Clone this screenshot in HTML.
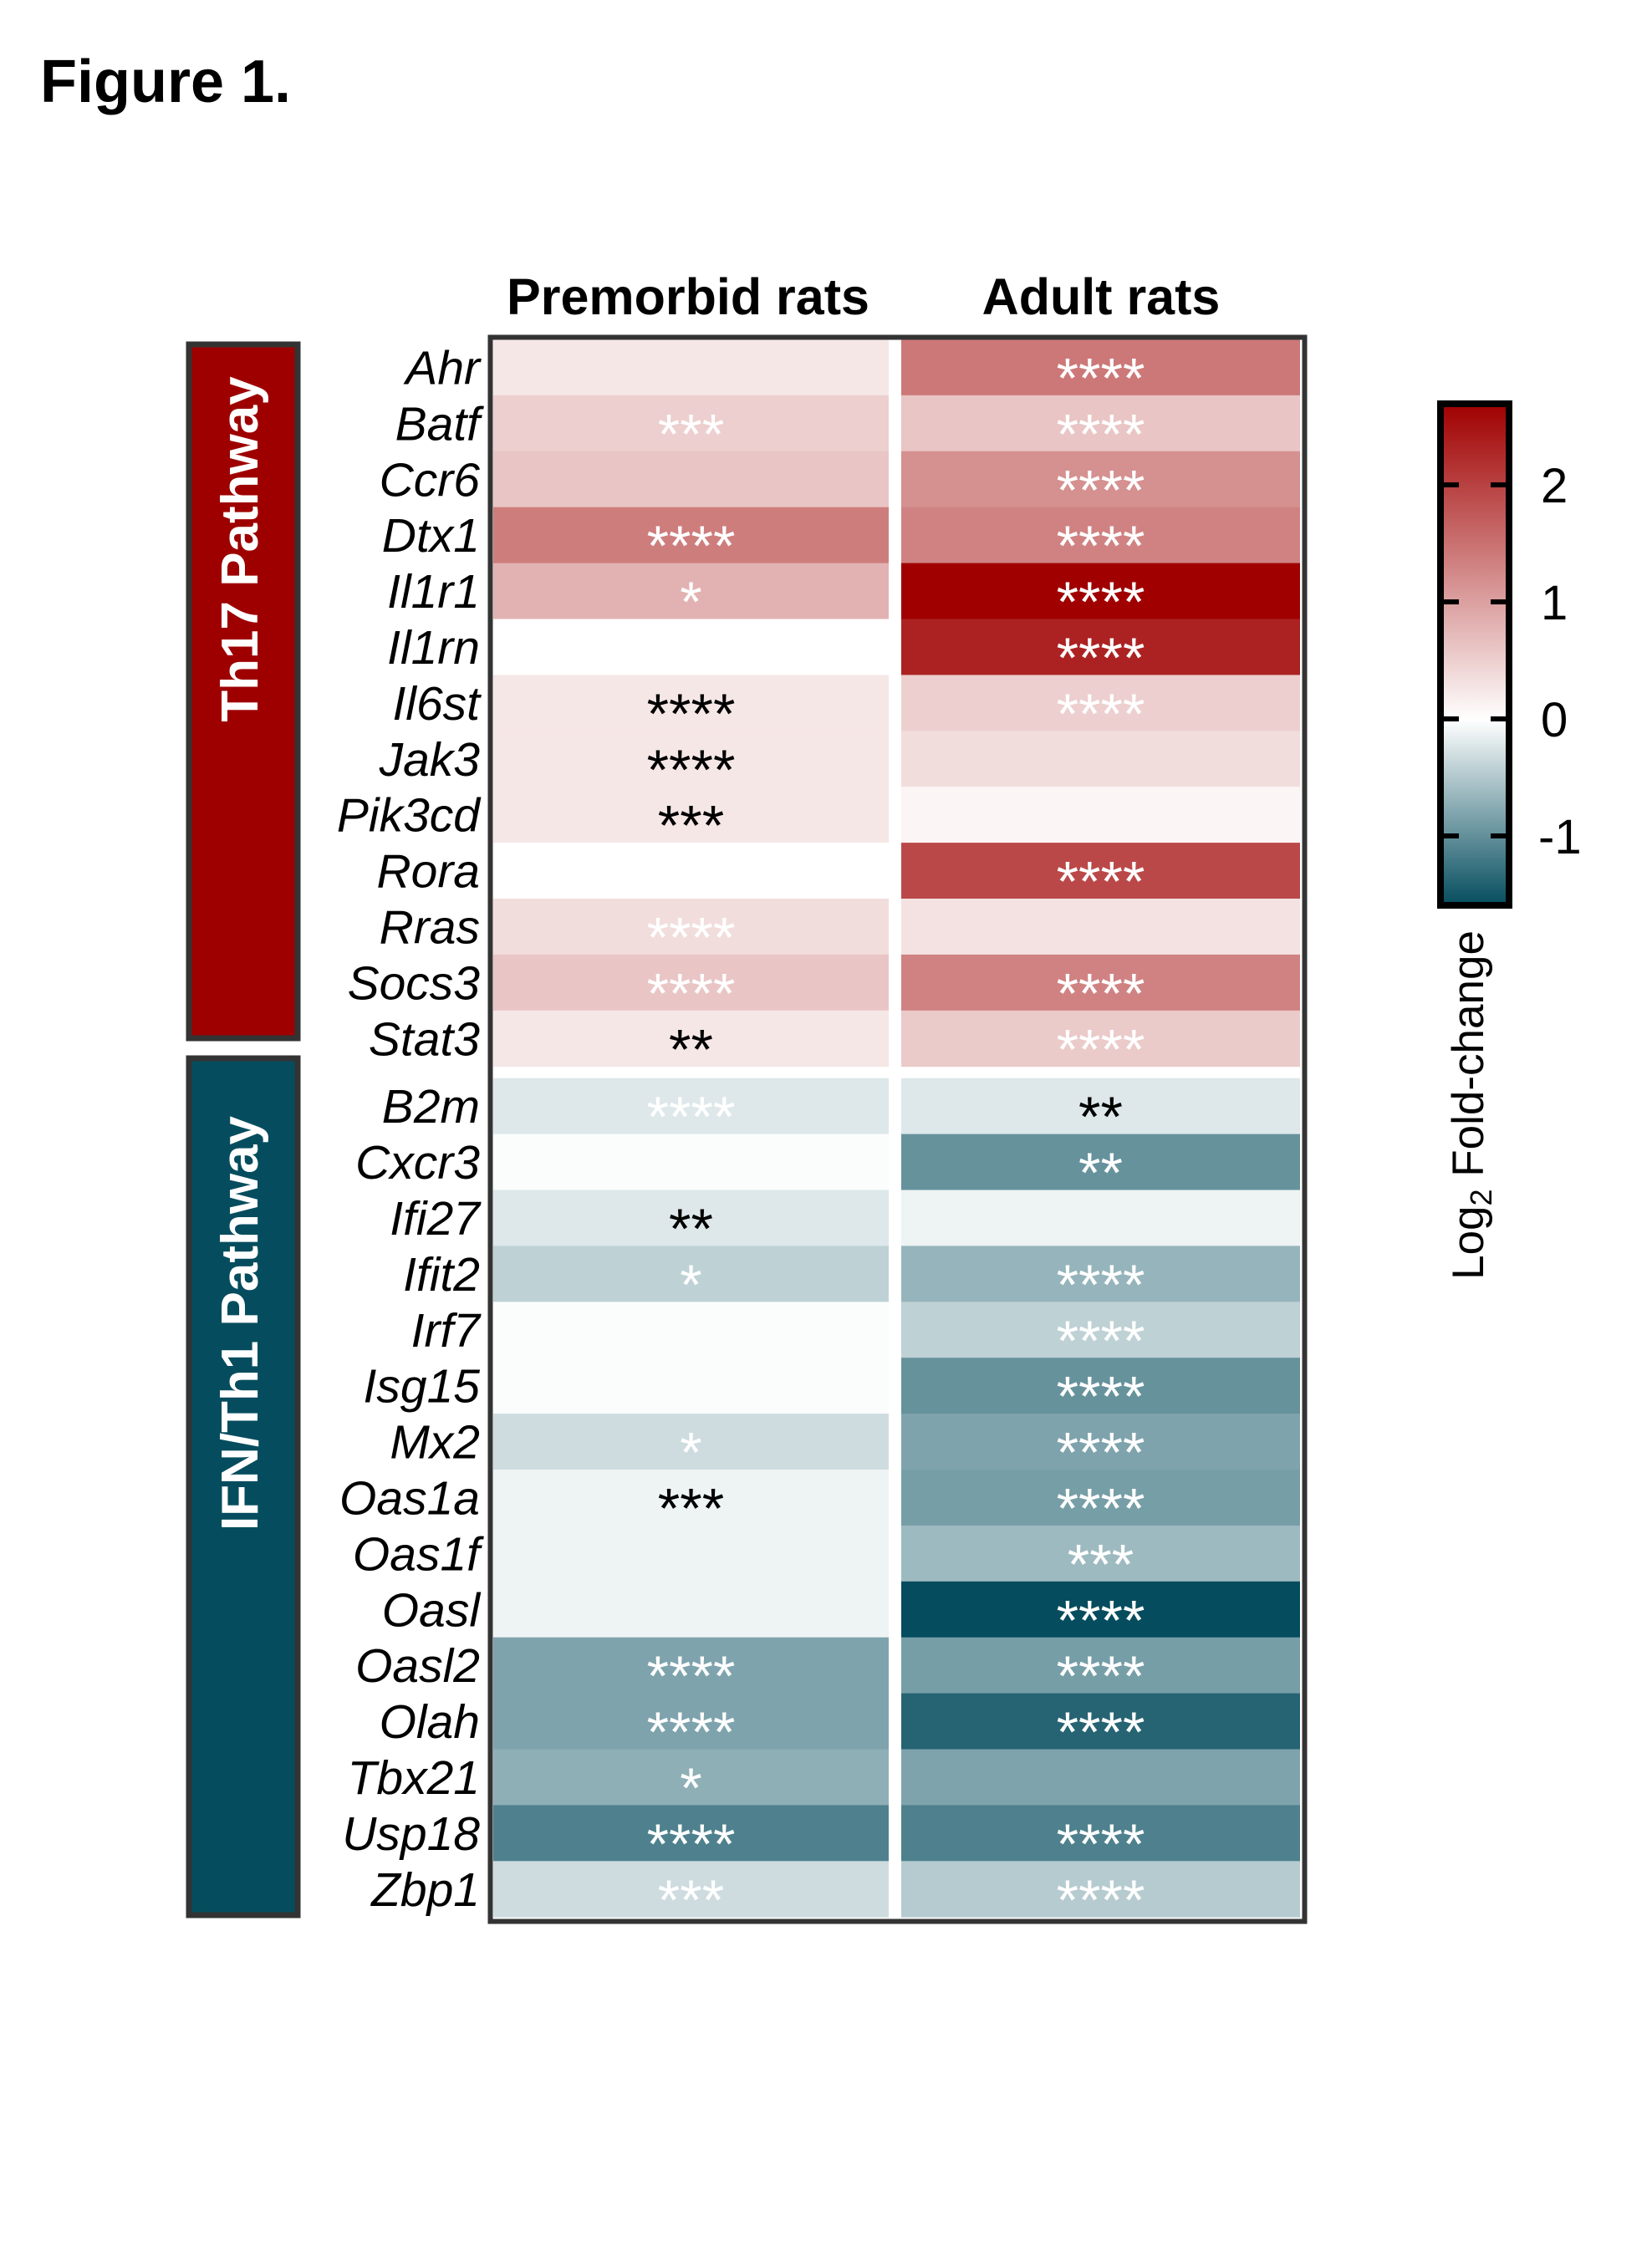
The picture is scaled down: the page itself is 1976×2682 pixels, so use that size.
<!DOCTYPE html>
<html><head><meta charset="utf-8"><style>
html,body{margin:0;padding:0;background:#fff;}
svg{display:block;}
text{font-family:"Liberation Sans",Arial,sans-serif;}
</style></head><body>
<svg id="fig" width="1976" height="2682" viewBox="0 0 1976 2682" xmlns="http://www.w3.org/2000/svg">
<defs>
<linearGradient id="cbgrad" x1="0" y1="0" x2="0" y2="1">
<stop offset="0" stop-color="#a00000"/>
<stop offset="0.63" stop-color="#ffffff"/>
<stop offset="1" stop-color="#054d5e"/>
</linearGradient>
</defs>
<text x="48" y="122" font-size="72" font-weight="bold">Figure 1.</text>
<text x="823" y="376" font-size="61" font-weight="bold" text-anchor="middle">Premorbid rats</text>
<text x="1317" y="376" font-size="61" font-weight="bold" text-anchor="middle">Adult rats</text>
<g id="cells"></g>
<rect x="586.5" y="403.5" width="974" height="1895" fill="none" stroke="#333" stroke-width="6"/>
<rect x="226" y="412" width="130" height="830" fill="#9e0000" stroke="#333" stroke-width="7"/>
<text transform="translate(308,657) rotate(-90)" font-size="62" font-weight="bold" fill="#fff" text-anchor="middle">Th17 Pathway</text>
<rect x="226" y="1266" width="130" height="1025" fill="#054d5e" stroke="#333" stroke-width="7"/>
<text transform="translate(308,1583) rotate(-90)" font-size="62" font-weight="bold" fill="#fff" text-anchor="middle">IFN/Th1 Pathway</text>
<g id="colorbar">
<rect x="1723" y="483" width="82" height="600" fill="url(#cbgrad)" stroke="#000" stroke-width="8"/>
</g>
<text transform="translate(1774,1322) rotate(-90)" font-size="53" text-anchor="middle">Log<tspan font-size="36" dy="10">2</tspan><tspan dy="-10"> Fold-change</tspan></text>
</svg>
<script>
const genes=["Ahr","Batf","Ccr6","Dtx1","Il1r1","Il1rn","Il6st","Jak3","Pik3cd","Rora","Rras","Socs3","Stat3","B2m","Cxcr3","Ifi27","Ifit2","Irf7","Isg15","Mx2","Oas1a","Oas1f","Oasl","Oasl2","Olah","Tbx21","Usp18","Zbp1"];
const premorbid=[0.25,0.5,0.6,1.35,0.8,0.0,0.25,0.25,0.25,0.0,0.35,0.6,0.25,-0.2,-0.02,-0.2,-0.4,-0.02,-0.02,-0.3,-0.1,-0.1,-0.1,-0.8,-0.8,-0.7,-1.1,-0.3];
const adult=[1.4,0.6,1.15,1.3,2.7,2.3,0.5,0.35,0.1,1.9,0.3,1.3,0.55,-0.2,-0.95,-0.1,-0.65,-0.4,-0.95,-0.8,-0.85,-0.6,-1.6,-0.85,-1.35,-0.8,-1.1,-0.45];
const premorbidStars=["","***","","****","*","","****","****","***","","****","****","**","****","","**","*","","","*","***","","","****","****","*","****","***"];
const adultStars=["****","****","****","****","****","****","****","","","****","","****","****","**","**","","****","****","****","****","****","***","****","****","****","","****","****"];
const premorbidStarDark=[0,0,0,0,0,0,1,1,1,0,0,0,1,0,0,1,0,0,0,0,1,0,0,0,0,0,0,0];
const adultStarDark=[0,0,0,0,0,0,0,0,0,0,0,0,0,1,0,0,0,0,0,0,0,0,0,0,0,0,0,0];
const cbTicks=[2,1,0,-1];
const th17Count=13;
const NS="http://www.w3.org/2000/svg";
const rowH=66.9, top0=406, gap=14;
function rowY(i){return top0+i*rowH+(i>=th17Count?gap:0);}
function colX(c){return c===0?590:1078;}
const colW=[473,477];
function color(v){
  let r,g,b;
  if(v>=0){const t=Math.min(v/2.66,1);r=255+(160-255)*t;g=255*(1-t);b=255*(1-t);}
  else{const t=Math.min(-v/1.56,1);r=255+(5-255)*t;g=255+(77-255)*t;b=255+(94-255)*t;}
  return `rgb(${r|0},${g|0},${b|0})`;
}
const cells=document.getElementById('cells');
const svg=document.getElementById('fig');
const series=[premorbid,adult], stars=[premorbidStars,adultStars], dark=[premorbidStarDark,adultStarDark];
genes.forEach((g,i)=>{
  const y=rowY(i);
  const lab=document.createElementNS(NS,'text');
  lab.setAttribute('x',574);lab.setAttribute('y',y+rowH/2+20);
  lab.setAttribute('font-size','57');lab.setAttribute('font-style','italic');lab.setAttribute('text-anchor','end');
  lab.textContent=g;
  
  
  svg.appendChild(lab);
  for(let c=0;c<2;c++){
    const r=document.createElementNS(NS,'rect');
    r.setAttribute('x',colX(c));r.setAttribute('y',y);r.setAttribute('width',colW[c]);r.setAttribute('height',rowH+0.5);
    r.setAttribute('fill',color(series[c][i]));
    
    
    cells.appendChild(r);
    if(stars[c][i]){
      const t=document.createElementNS(NS,'text');
      t.setAttribute('x',colX(c)+colW[c]/2);t.setAttribute('y',y+rowH/2+36);
      t.setAttribute('font-size','68');t.setAttribute('text-anchor','middle');
      t.setAttribute('fill',dark[c][i]?'#000':'#fff');
      t.textContent=stars[c][i];
      
      
      cells.appendChild(t);
    }
  }
});
const cb=document.getElementById('colorbar');
function cbY(v){return 860-v*140;}
cbTicks.forEach(v=>{
  const y=cbY(v);
  [[1723,1745],[1783,1805]].forEach(([a,b])=>{
    const l=document.createElementNS(NS,'line');
    l.setAttribute('x1',a);l.setAttribute('x2',b);l.setAttribute('y1',y);l.setAttribute('y2',y);
    l.setAttribute('stroke','#000');l.setAttribute('stroke-width','6');
    
    
    cb.appendChild(l);
  });
  const t=document.createElementNS(NS,'text');
  t.setAttribute('x',v<0?1840:1843);t.setAttribute('y',y+21);t.setAttribute('font-size','58');
  t.textContent=v<0?'-'+Math.abs(v):String(v);
  
  
  cb.appendChild(t);
});
</script>
</body></html>
